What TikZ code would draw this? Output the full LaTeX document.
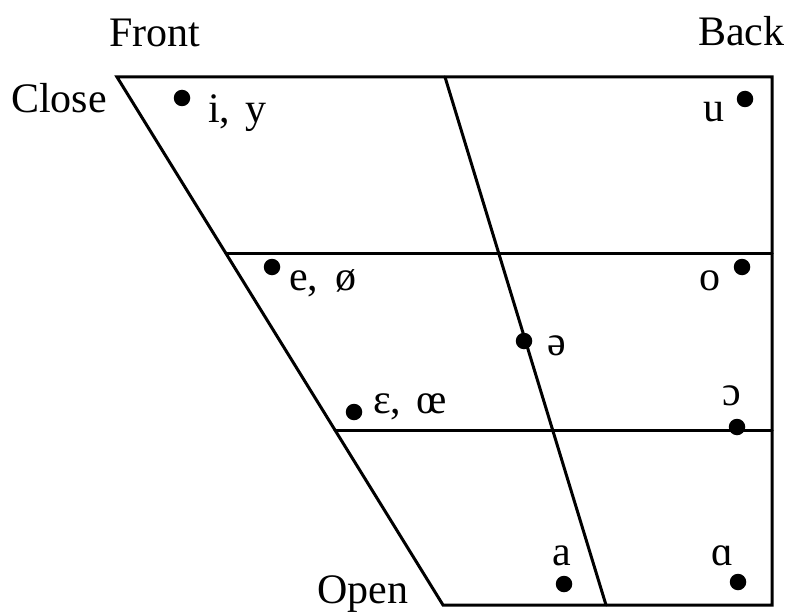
\documentclass[tikz,border=0pt]{standalone}
\usepackage{fontspec}
\setmainfont{Liberation Serif}
\begin{document}
\begin{tikzpicture}[x=1pt,y=-1pt,
  edge/.style={line width=3pt,line cap=round,line join=miter},
  vdot/.style={circle,fill=black,inner sep=0pt,minimum size=16.5pt},
  lbl/.style={inner sep=0pt,anchor=base west,font=\fontsize{42}{48}\selectfont}]
\useasboundingbox (0,0) rectangle (792,615);
% frame corners
\coordinate (TL) at (117,77);
\coordinate (TR) at (772,77);
\coordinate (BR) at (772,605);
\coordinate (BL) at (443,605);
\coordinate (CT) at (445,77);
\coordinate (CB) at (606,605);
\coordinate (M1L) at (226,253);
\coordinate (M1R) at (772,253);
\coordinate (M2L) at (335,430);
\coordinate (M2R) at (772,430);
\draw[edge] (TL) -- (TR) -- (BR) -- (BL) -- cycle;
\draw[edge] (CT) -- (CB);
\draw[edge] (M1L) -- (M1R);
\draw[edge] (M2L) -- (M2R);
% dots
\node[vdot] (di) at (182,98) {};
\node[vdot] (du) at (745,99) {};
\node[vdot] (de) at (272,267) {};
\node[vdot] (do) at (742,267) {};
\node[vdot] (dschwa) at (524,341) {};
\node[vdot] (deps) at (354,412) {};
\node[vdot] (dopeno) at (737,427) {};
\node[vdot] (da) at (564,584) {};
\node[vdot] (dalpha) at (738,582) {};
% labels
\node[lbl] (front) at (109,47) {Front};
\node[lbl] (back) at (698,46) {Back};
\node[lbl] (close) at (11,113) {Close};
\node[lbl] (open) at (317,603) {Open};
\node[lbl] (li) at (208,123) {i,\hspace{0.35em}y};
\node[lbl] (lu) at (703,122) {u};
\node[lbl] (le) at (289,290) {e,\hspace{0.4em}ø};
\node[lbl] (lo) at (699,290) {o};
\node[lbl] (lschwa) at (547,355) {ə};
\node[lbl] (leps) at (373,413) {ɛ,\hspace{0.35em}œ};
\node[lbl] (lopeno) at (722,405) {ɔ};
\node[lbl] (la) at (552,565) {a};
\node[lbl] (lalpha) at (711,565) {ɑ};
\end{tikzpicture}
\end{document}
